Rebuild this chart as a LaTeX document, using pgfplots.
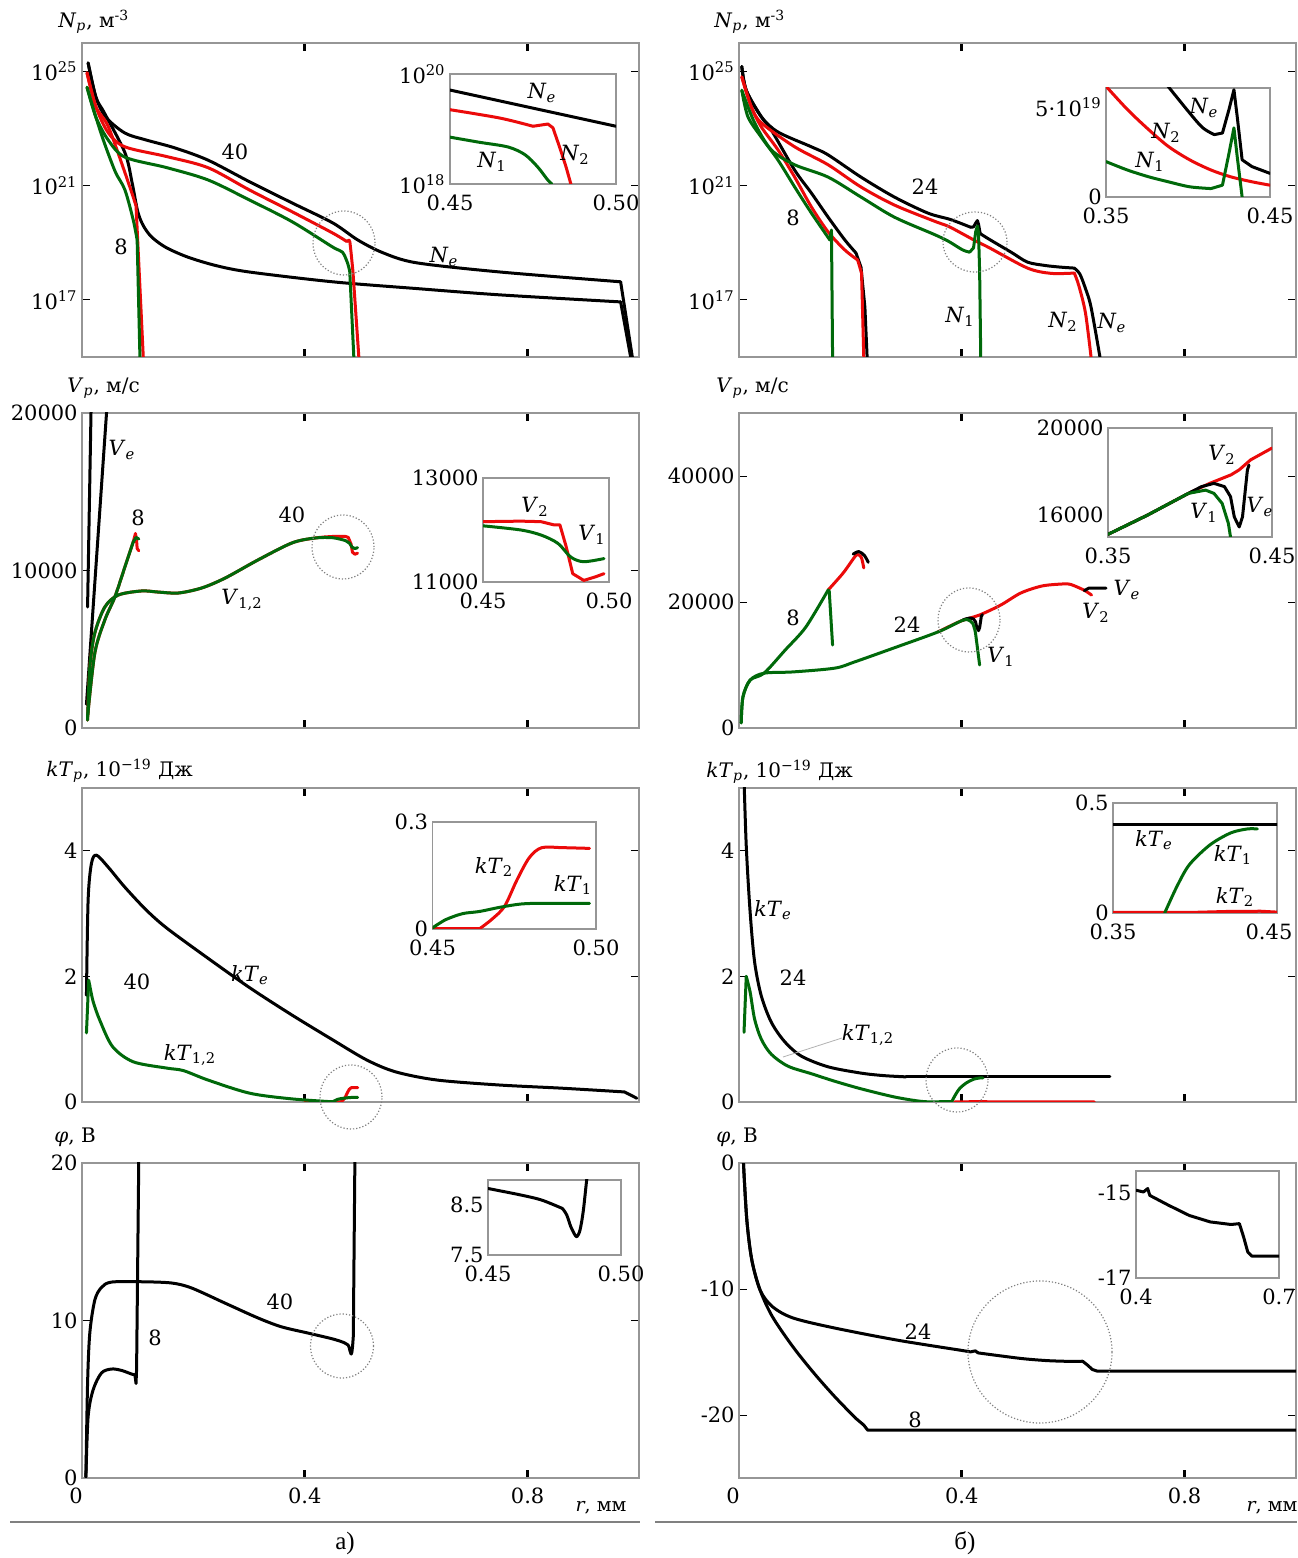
\documentclass[border=0pt]{standalone}
\usepackage{fontspec}
\setmainfont{DejaVu Serif}
\newfontfamily\capfont{Liberation Serif}
\usepackage{pgfplots}
\pgfplotsset{compat=1.18}
\definecolor{myred}{RGB}{235,10,10}
\definecolor{mygreen}{RGB}{0,105,10}
\definecolor{framec}{RGB}{150,150,150}
\newcommand{\lab}[2]{\textit{#1}\textsubscript{#2}}
\pgfplotsset{
  every axis plot/.append style={line width=1.5pt, line join=round, line cap=round},
  no markers,
  sm/.style={smooth, tension=0.5},
  base/.style={
    scale only axis, anchor=south west,
    axis line style={framec, line width=0.6pt},
    tick align=inside, major tick length=4pt,
    xtick style={black, line width=1.6pt},
    ytick style={black, line width=0.4pt},
    axis background/.style={fill=white},
    scaled ticks=false, yminorticks=false, xminorticks=false,
    yticklabel style={inner sep=2pt},
    xticklabel style={inner sep=2pt},
  },
  main/.style={base, width=278.5pt, xmin=0, xmax=1, xtick={0.4,0.8}, xticklabels={,,}},
  inset/.style={base, major tick length=0pt, xtick style={line width=0.4pt},
    xticklabel style={yshift=-3.5pt}},
  bottomrow/.style={xticklabels={0.4,0.8}, xticklabel style={yshift=-3pt},
    extra x ticks={0}, extra x tick labels={0},
    extra x tick style={major tick length=0pt, xticklabel style={xshift=-3pt}}},
}
\begin{document}
\fontsize{10.5}{12.6}\selectfont
\begin{tikzpicture}
\useasboundingbox (0,0) rectangle (648.5pt,779pt);

% ===================== Row 1 left: N =====================
\begin{axis}[main, at={(41pt,600.5pt)}, height=157pt, ymode=log, ymin=1e15, ymax=1e26,
  ytick={1e17,1e21,1e25}, yticklabels={10\textsuperscript{17},10\textsuperscript{21},10\textsuperscript{25}}]
\addplot[black, sm] coordinates {(0.011,2e25)(0.025,1.26e24)(0.043,2.5e23)(0.077,7e22)(0.115,4e22)(0.167,2.1e22)(0.226,7.9e21)(0.30,1.4e21)(0.377,2.5e20)(0.45,5e19)(0.495,1.26e19)(0.54,4.5e18)(0.60,2e18)(0.75,9.5e17)(0.967,4.3e17)};
\addplot[black] coordinates {(0.967,4.3e17)(0.988,1e15)};
\addplot[black, sm] coordinates {(0.011,2e25)(0.025,1.26e24)(0.04,3.6e23)(0.077,1.45e22)(0.09,1.26e21)(0.1,1.26e20)(0.11,4e19)(0.125,1.6e19)(0.15,7e18)(0.189,3.2e18)(0.24,1.6e18)(0.30,9.5e17)(0.45,4.3e17)(0.60,2.5e17)(0.75,1.5e17)(0.967,8.5e16)};
\addplot[black] coordinates {(0.967,8.5e16)(0.985,1e15)};
\addplot[myred, sm] coordinates {(0.009,9e24)(0.025,5.8e23)(0.047,7.2e22)(0.077,2.3e22)(0.152,1.05e22)(0.226,4.3e21)(0.30,7.2e20)(0.377,1.23e20)(0.45,2.2e19)(0.475,1.12e19)};
\addplot[myred] coordinates {(0.475,1.12e19)(0.4795,1.23e19)(0.481,1.05e19)(0.483,4.7e18)(0.4864,1e18)(0.497,1e15)};
\addplot[myred, sm] coordinates {(0.009,9e24)(0.025,5.8e23)(0.047,1.2e23)(0.077,2.9e21)(0.097,2e20)};
\addplot[myred] coordinates {(0.097,2e20)(0.11,1e15)};
\addplot[mygreen, sm] coordinates {(0.009,2.8e24)(0.025,2.5e23)(0.047,4e22)(0.077,1e22)(0.152,4.3e21)(0.226,1.6e21)(0.30,3.2e20)(0.377,5.5e19)(0.45,7.1e18)(0.4675,4.7e18)(0.4764,2.04e18)(0.4807,1e18)};
\addplot[mygreen] coordinates {(0.4807,1e18)(0.488,1e15)};
\addplot[mygreen, sm] coordinates {(0.009,2.8e24)(0.025,2.5e23)(0.04,3.2e22)(0.06,3e21)(0.077,7.2e20)(0.092,6.3e19)(0.099,1.26e19)};
\addplot[mygreen] coordinates {(0.099,1.26e19)(0.104,1e15)};
\end{axis}
\begin{axis}[inset, at={(225pt,687pt)}, width=83pt, height=55pt, xmin=0.45, xmax=0.5,
  ymode=log, ymin=1e18, ymax=1e20, xtick={0.45,0.5}, xticklabels={0.45,0.50},
  ytick={1e18,1e20}, yticklabels={10\textsuperscript{18},10\textsuperscript{20}}]
\addplot[black] coordinates {(0.45,5.1e19)(0.5,1.12e19)};
\addplot[myred, sm] coordinates {(0.45,2.24e19)(0.465,1.58e19)(0.475,1.12e19)};
\addplot[myred] coordinates {(0.475,1.12e19)(0.4795,1.23e19)(0.481,1.05e19)(0.483,4.7e18)(0.485,2e18)(0.4864,1e18)(0.487,8e17)};
\addplot[mygreen, sm] coordinates {(0.45,7.1e18)(0.4587,5.75e18)(0.4675,4.7e18)(0.4726,3.4e18)(0.4764,2.04e18)(0.4795,1.17e18)(0.4807,1e18)};
\end{axis}

% ===================== Row 1 right: N =====================
\begin{axis}[main, at={(369.5pt,600.5pt)}, height=157pt, ymode=log, ymin=1e15, ymax=1e26,
  ytick={1e17,1e21,1e25}, yticklabels={10\textsuperscript{17},10\textsuperscript{21},10\textsuperscript{25}}]
\addplot[black, sm] coordinates {(0.005,1.5e25)(0.013,2.2e24)(0.04,2.6e23)(0.07,7.6e22)(0.13,2.3e22)(0.16,1.2e22)(0.219,2e21)(0.279,4e20)(0.339,1.1e20)(0.38,6.5e19)(0.416,3.5e19)};
\addplot[black] coordinates {(0.416,3.5e19)(0.421,3.6e19)(0.425,4.9e19)(0.428,6e19)(0.43,4.5e19)(0.433,2.1e19)};
\addplot[black, sm] coordinates {(0.433,2.1e19)(0.45,1.3e19)(0.49,4.5e18)(0.518,2.1e18)(0.55,1.6e18)(0.578,1.4e18)(0.602,1.3e18)};
\addplot[black, sm] coordinates {(0.602,1.3e18)(0.612,8e17)(0.622,2.5e17)(0.632,5.6e16)(0.648,1e15)};
\addplot[black, sm] coordinates {(0.005,1.5e25)(0.013,2.2e24)(0.04,2.6e23)(0.058,8.9e22)(0.1,3.5e21)(0.13,5.5e20)(0.16,7.9e19)(0.19,1.26e19)(0.21,4.4e18)};
\addplot[black] coordinates {(0.21,4.4e18)(0.219,1.4e18)(0.226,5.6e16)(0.23,1e15)};
\addplot[myred, sm] coordinates {(0.005,6.5e24)(0.022,5.8e23)(0.04,1.6e23)(0.1,2.3e22)(0.16,5.4e21)(0.219,9e20)(0.279,2.1e20)(0.35,5.8e19)(0.376,3.77e19)(0.401,2.08e19)(0.426,1.13e19)(0.45,6.6e18)(0.518,1.3e18)(0.56,8.5e17)(0.602,8.7e17)};
\addplot[myred, sm] coordinates {(0.602,8.7e17)(0.61,3.2e17)(0.622,3.5e16)(0.632,1e15)};
\addplot[myred, sm] coordinates {(0.005,6.5e24)(0.022,5.8e23)(0.04,1.15e23)(0.07,1.8e22)(0.1,2e21)(0.13,1.8e20)(0.16,2.4e19)(0.19,5.6e18)(0.213,2.5e18)};
\addplot[myred] coordinates {(0.213,2.5e18)(0.22,8.7e17)(0.224,1e15)};
\addplot[mygreen, sm] coordinates {(0.005,2.2e24)(0.028,1.6e23)(0.058,1.8e22)(0.1,5.4e21)(0.16,2e21)(0.219,4e20)(0.279,7.9e19)(0.35,1.98e19)(0.376,1.13e19)(0.401,5.7e18)(0.414,4.7e18)};
\addplot[mygreen] coordinates {(0.414,4.7e18)(0.421,6.6e18)(0.425,2.45e19)(0.428,3.87e19)(0.43,2.26e19)(0.432,1e18)(0.434,1e15)};
\addplot[mygreen, sm] coordinates {(0.005,2.2e24)(0.016,2.6e23)(0.04,5e22)(0.07,7.9e21)(0.1,9e20)(0.13,1.1e20)(0.163,1.26e19)};
\addplot[mygreen] coordinates {(0.163,1.26e19)(0.166,2.8e19)(0.168,1e15)};
\end{axis}
\begin{axis}[inset, at={(553pt,680.5pt)}, width=82pt, height=54.5pt, xmin=0.35, xmax=0.45,
  ymin=0, ymax=6.1e19, xtick={0.35,0.45}, xticklabels={0.35,0.45},
  ytick={0,5e19}, yticklabels={0,5·10\textsuperscript{19}}]
\addplot[myred, sm] coordinates {(0.349,6.3e19)(0.363,4.9e19)(0.376,3.77e19)(0.388,2.83e19)(0.401,2.08e19)(0.414,1.51e19)(0.426,1.13e19)(0.439,0.85e19)(0.45,0.66e19)};
\addplot[black, sm] coordinates {(0.386,6.4e19)(0.401,4.7e19)(0.409,3.87e19)(0.416,3.49e19)};
\addplot[black] coordinates {(0.416,3.49e19)(0.421,3.58e19)(0.425,4.9e19)(0.428,6.0e19)(0.43,4.5e19)(0.433,2.08e19)(0.439,1.7e19)(0.45,1.32e19)};
\addplot[mygreen, sm] coordinates {(0.35,1.98e19)(0.363,1.51e19)(0.376,1.13e19)(0.388,0.85e19)(0.401,0.57e19)(0.414,0.47e19)};
\addplot[mygreen] coordinates {(0.414,0.47e19)(0.421,0.66e19)(0.425,2.45e19)(0.428,3.87e19)(0.43,2.26e19)(0.433,0)};
\end{axis}

% ===================== Row 2 left: V =====================
\begin{axis}[main, at={(41pt,415pt)}, height=157.5pt, ymin=0, ymax=20000,
  ytick={0,10000,20000}, yticklabels={0,10000,20000}]
\addplot[black] coordinates {(0.010,7680)(0.0164,20500)};
\addplot[black] coordinates {(0.008,1500)(0.045,20500)};
\addplot[myred, sm] coordinates {(0.01,500)(0.014,3870)(0.023,6030)(0.041,7680)(0.065,8440)(0.107,8700)(0.137,8630)(0.173,8570)(0.215,8890)(0.257,9520)(0.316,10670)(0.377,11750)(0.418,12060)(0.45,12160)(0.473,12160)};
\addplot[myred] coordinates {(0.473,12160)(0.478,12100)(0.483,11680)(0.4856,11160)(0.49,11030)(0.4947,11100)};
\addplot[myred, sm] coordinates {(0.01,700)(0.023,4760)(0.041,6860)(0.059,8320)(0.077,10220)(0.092,11810)};
\addplot[myred] coordinates {(0.092,11810)(0.096,12350)(0.098,11900)(0.099,11400)(0.102,11250)};
\addplot[mygreen, sm] coordinates {(0.01,500)(0.014,3870)(0.023,6030)(0.041,7680)(0.065,8440)(0.107,8700)(0.137,8630)(0.173,8570)(0.215,8890)(0.257,9520)(0.316,10670)(0.377,11750)(0.418,12060)(0.45,12080)(0.473,11900)};
\addplot[mygreen] coordinates {(0.473,11900)(0.48,11740)(0.485,11480)(0.49,11390)(0.4947,11450)};
\addplot[mygreen, sm] coordinates {(0.01,700)(0.023,4760)(0.041,6860)(0.059,8320)(0.077,10220)(0.092,11810)};
\addplot[mygreen] coordinates {(0.092,11810)(0.097,12100)(0.102,12000)};
\end{axis}
\begin{axis}[inset, at={(241.5pt,488pt)}, width=63pt, height=52pt, xmin=0.45, xmax=0.5,
  ymin=11000, ymax=13000, xtick={0.45,0.5}, xticklabels={0.45,0.50},
  ytick={11000,13000}, yticklabels={11000,13000}]
\addplot[myred] coordinates {(0.45,12160)(0.465,12170)(0.473,12160)(0.478,12100)(0.4805,12100)(0.483,11680)(0.4856,11160)(0.49,11030)(0.4947,11100)(0.498,11160)};
\addplot[mygreen, sm] coordinates {(0.45,12080)(0.465,12000)(0.4732,11900)(0.4798,11740)(0.4848,11480)(0.4899,11390)(0.498,11450)};
\end{axis}

% ===================== Row 2 right: V =====================
\begin{axis}[main, at={(369.5pt,415pt)}, height=157.5pt, ymin=0, ymax=50000,
  ytick={0,20000,40000}, yticklabels={0,20000,40000}]
\addplot[myred, sm] coordinates {(0.357,15240)(0.399,17000)(0.432,17940)(0.47,19520)(0.506,21430)(0.544,22540)(0.581,22860)(0.595,22800)(0.619,21900)(0.633,21100)};
\addplot[myred, sm] coordinates {(0.16,21900)(0.187,24600)(0.209,27300)(0.215,27460)(0.22,27000)(0.224,25400)};
\addplot[black] coordinates {(0.402,17140)(0.407,17310)(0.4146,17460)(0.421,17310)(0.4247,16850)(0.427,15920)(0.43,15460)(0.432,15920)(0.435,17700)(0.437,18000)};
\addplot[black] coordinates {(0.62,21800)(0.628,22200)(0.659,22200)};
\addplot[black, sm] coordinates {(0.205,27600)(0.215,28000)(0.225,27400)(0.232,26300)};
\addplot[mygreen, sm] coordinates {(0.004,800)(0.007,4900)(0.02,7600)(0.045,8700)(0.097,8900)(0.172,9500)(0.208,10500)(0.283,12860)(0.357,15240)(0.399,17000)(0.41,17200)};
\addplot[mygreen] coordinates {(0.41,17200)(0.415,17000)(0.42,16540)(0.4234,15620)(0.4247,15000)(0.432,10000)};
\addplot[mygreen, sm] coordinates {(0.004,800)(0.007,4900)(0.02,7600)(0.045,8700)(0.083,12380)(0.12,16030)(0.16,21900)};
\addplot[mygreen] coordinates {(0.16,21900)(0.162,21700)(0.168,13170)};
\end{axis}
\begin{axis}[inset, at={(554pt,510.5pt)}, width=82pt, height=54.5pt, xmin=0.35, xmax=0.45,
  ymin=15000, ymax=20000, xtick={0.35,0.45}, xticklabels={0.35,0.45},
  ytick={16000,20000}, yticklabels={16000,20000}]
\addplot[myred] coordinates {(0.35,15120)(0.374,16000)(0.399,17000)(0.412,17460)(0.425,17850)(0.43,18080)(0.437,18540)(0.45,19080)};
\addplot[black] coordinates {(0.35,15120)(0.374,16000)(0.399,17000)(0.407,17310)(0.4146,17460)(0.421,17310)(0.4247,16850)(0.427,15920)(0.43,15460)(0.432,15920)(0.435,18080)(0.436,18300)};
\addplot[mygreen] coordinates {(0.35,15120)(0.374,16000)(0.399,17000)(0.4095,17150)(0.4146,17000)(0.4196,16540)(0.4234,15620)(0.4247,15000)(0.425,14800)};
\end{axis}

% ===================== Row 3 left: kT =====================
\begin{axis}[main, at={(41pt,228pt)}, height=157pt, ymin=0, ymax=5,
  ytick={0,2,4}, yticklabels={0,2,4}]
\addplot[black, sm] coordinates {(0.008,1.7)(0.011,3.22)(0.017,3.8)(0.026,3.93)(0.047,3.74)(0.077,3.42)(0.115,3.06)(0.152,2.77)(0.226,2.29)(0.301,1.82)(0.376,1.39)(0.45,0.99)(0.511,0.67)(0.563,0.48)(0.637,0.35)(0.75,0.27)(0.861,0.22)(0.974,0.16)};
\addplot[black] coordinates {(0.974,0.16)(0.996,0.06)};
\addplot[myred] coordinates {(0.40,0)(0.4643,0)(0.468,0.026)(0.472,0.063)(0.4758,0.137)(0.4796,0.2)(0.4834,0.228)(0.495,0.228)};
\addplot[mygreen] coordinates {(0.008,1.1)(0.012,1.94)(0.014,1.85)};
\addplot[mygreen, sm] coordinates {(0.014,1.85)(0.02,1.6)(0.032,1.3)(0.055,0.88)(0.092,0.64)(0.152,0.54)(0.182,0.5)(0.226,0.35)(0.301,0.14)(0.376,0.05)(0.45,0.003)};
\addplot[mygreen, sm] coordinates {(0.45,0.003)(0.4592,0.043)(0.4707,0.061)(0.4834,0.072)(0.495,0.072)};
\end{axis}
\begin{axis}[inset, at={(216.25pt,314.5pt)}, width=81.75pt, height=53.5pt, xmin=0.45, xmax=0.5,
  ymin=0, ymax=0.3, xtick={0.45,0.5}, xticklabels={0.45,0.50},
  ytick={0,0.3}, yticklabels={0,0.3}]
\addplot[myred] coordinates {(0.45,0)(0.4643,0)};
\addplot[myred, sm] coordinates {(0.4643,0)(0.468,0.026)(0.472,0.063)(0.4758,0.137)(0.4796,0.2)(0.4834,0.228)(0.4898,0.228)(0.498,0.226)};
\addplot[mygreen, sm] coordinates {(0.45,0.003)(0.454,0.026)(0.4592,0.043)(0.4643,0.049)(0.4707,0.061)(0.477,0.07)(0.4834,0.072)(0.498,0.072)};
\end{axis}

% ===================== Row 3 right: kT =====================
\begin{axis}[main, at={(369.5pt,228pt)}, height=157pt, ymin=0, ymax=5,
  ytick={0,2,4}, yticklabels={0,2,4}]
\addplot[black, sm] coordinates {(0.0085,5.3)(0.013,4.08)(0.02,3.02)(0.028,2.23)(0.04,1.69)(0.058,1.27)(0.082,0.96)(0.112,0.73)(0.16,0.56)(0.219,0.46)(0.26,0.42)(0.30,0.4)};
\addplot[black] coordinates {(0.30,0.4)(0.666,0.4)};
\addplot[myred] coordinates {(0.387,0.0)(0.42,0.005)(0.44,0.006)(0.45,0.002)(0.638,0.0)};
\addplot[mygreen] coordinates {(0.009,1.11)(0.013,2.0)};
\addplot[mygreen, sm] coordinates {(0.013,2.0)(0.02,1.75)(0.028,1.32)(0.04,1.0)(0.058,0.76)(0.088,0.57)(0.13,0.45)(0.172,0.33)(0.219,0.21)(0.279,0.08)(0.327,0.01)(0.36,0)};
\addplot[mygreen] coordinates {(0.36,0)(0.3815,0)};
\addplot[mygreen, sm] coordinates {(0.3815,0)(0.389,0.121)(0.3966,0.22)(0.4092,0.31)(0.4218,0.364)(0.4319,0.382)(0.438,0.382)};
\end{axis}
\begin{axis}[inset, at={(556.5pt,322.5pt)}, width=82pt, height=55pt, xmin=0.35, xmax=0.45,
  ymin=0, ymax=0.5, xtick={0.35}, xticklabels={0.35},
  extra x ticks={0.45}, extra x tick labels={0.45},
  extra x tick style={xticklabel style={xshift=-4pt}},
  ytick={0,0.5}, yticklabels={0,0.5}]
\addplot[black] coordinates {(0.35,0.4)(0.45,0.4)};
\addplot[myred] coordinates {(0.35,0.003)(0.40,0.003)(0.42,0.007)(0.44,0.008)(0.45,0.004)};
\addplot[mygreen, sm] coordinates {(0.3815,0)(0.389,0.121)(0.3966,0.22)(0.4092,0.31)(0.4218,0.364)(0.4319,0.382)(0.438,0.382)};
\end{axis}

% ===================== Row 4 left: phi =====================
\begin{axis}[main, bottomrow, at={(41pt,40pt)}, height=157.5pt, ymin=0, ymax=20,
  ytick={0,10,20}, yticklabels={0,10,20}]
\addplot[black, sm] coordinates {(0.007,0.06)(0.01,6)(0.014,9.2)(0.023,11.3)(0.035,12.1)(0.053,12.44)(0.107,12.46)(0.161,12.38)(0.197,12.06)(0.257,11.1)(0.316,10.16)(0.358,9.6)(0.406,9.2)(0.45,8.83)(0.4701,8.6)(0.478,8.43)};
\addplot[black] coordinates {(0.478,8.43)(0.4796,8.3)(0.4811,8.07)(0.4827,7.9)(0.4835,7.87)(0.4846,8.0)(0.4858,8.37)(0.4871,9.0)(0.49,20.5)};
\addplot[black, sm] coordinates {(0.007,0.06)(0.011,3.9)(0.02,5.6)(0.035,6.67)(0.053,6.92)(0.071,6.83)(0.089,6.6)(0.095,6.55)};
\addplot[black] coordinates {(0.095,6.55)(0.097,6.0)(0.098,6.9)(0.102,20.5)};
\end{axis}
\begin{axis}[inset, at={(244pt,151.5pt)}, width=66.5pt, height=37.5pt, xmin=0.45, xmax=0.5,
  ymin=7.5, ymax=9, xtick={0.45,0.5}, xticklabels={0.45,0.50},
  ytick={7.5,8.5}, yticklabels={7.5,8.5}]
\addplot[black, sm] coordinates {(0.45,8.83)(0.4623,8.7)(0.4701,8.6)(0.478,8.43)};
\addplot[black, sm] coordinates {(0.478,8.43)(0.4796,8.3)(0.4811,8.07)(0.4827,7.9)(0.4835,7.87)(0.4846,8.0)(0.4858,8.37)(0.4871,9.0)(0.4875,9.1)};
\end{axis}

% ===================== Row 4 right: phi =====================
\begin{axis}[main, bottomrow, at={(369.5pt,40pt)}, height=157.5pt, ymin=-25, ymax=0,
  ytick={-20,-10,0}, yticklabels={-20,-10,0}]
\addplot[black, sm] coordinates {(0.008,0)(0.014,-4.5)(0.023,-7.7)(0.038,-10.1)(0.06,-11.4)(0.097,-12.3)(0.172,-13.1)(0.283,-14.05)(0.395,-14.84)};
\addplot[black] coordinates {(0.395,-14.84)(0.4157,-14.99)(0.4245,-14.91)(0.4289,-15.07)};
\addplot[black, sm] coordinates {(0.4289,-15.07)(0.4682,-15.3)(0.512,-15.54)(0.5557,-15.69)(0.5994,-15.75)(0.6169,-15.73)};
\addplot[black] coordinates {(0.6169,-15.73)(0.6257,-16.04)(0.6344,-16.39)(0.6432,-16.52)(1.0,-16.52)};
\addplot[black, sm] coordinates {(0.008,0)(0.014,-4.5)(0.023,-7.7)(0.038,-10.1)(0.06,-12.2)(0.097,-14.6)(0.135,-16.7)(0.172,-18.55)(0.209,-20.24)};
\addplot[black] coordinates {(0.209,-20.24)(0.224,-20.8)(0.231,-21.2)(1.0,-21.2)};
\end{axis}
\begin{axis}[inset, at={(568pt,140pt)}, width=71.5pt, height=53.5pt, xmin=0.4, xmax=0.7,
  ymin=-17, ymax=-14.5, xtick={0.4,0.7}, xticklabels={0.4,0.7},
  ytick={-17,-15}, yticklabels={-17,-15}]
\addplot[black] coordinates {(0.4,-14.95)(0.4157,-14.99)(0.4245,-14.91)(0.4289,-15.07)(0.4682,-15.3)(0.512,-15.54)(0.5557,-15.69)(0.5994,-15.75)(0.6169,-15.73)(0.6257,-16.04)(0.6344,-16.39)(0.6432,-16.49)(0.7,-16.49)};
\end{axis}

% ===================== annotations (pixel coordinates) =====================
\begin{scope}[shift={(0pt,779pt)}, x=0.5pt, y=-0.5pt]
  \begin{scope}[gray, densely dotted, line width=0.6pt]
    \draw (344,243) ellipse [x radius=15.5pt, y radius=16pt];
    \draw (975,242) ellipse [x radius=16pt, y radius=15pt];
    \draw (343,547) ellipse [x radius=15.5pt, y radius=16pt];
    \draw (969,620) ellipse [x radius=15.5pt, y radius=16pt];
    \draw (351,1097) ellipse [x radius=15.5pt, y radius=16pt];
    \draw (957,1080) ellipse [x radius=15.5pt, y radius=16pt];
    \draw (342,1346) ellipse [x radius=15.75pt, y radius=16pt];
    \draw (1040,1352) ellipse [x radius=36pt, y radius=35.5pt];
  \end{scope}
  \begin{scope}[every node/.style={anchor=base west, inner sep=0pt, font=\fontsize{10}{12}\selectfont}]
    \node at (58,28) {\lab{N}{\textit{p}}, м\textsuperscript{-3}};
    \node at (714,28) {\lab{N}{\textit{p}}, м\textsuperscript{-3}};
    \node at (67,393) {\lab{V}{\textit{p}}, м/с};
    \node at (716,393) {\lab{V}{\textit{p}}, м/с};
    \node at (46,777) {\lab{kT}{\textit{p}}, 10\textsuperscript{−19} Дж};
    \node at (706,778) {\lab{kT}{\textit{p}}, 10\textsuperscript{−19} Дж};
    \node at (54,1143) {\textit{φ}, В};
    \node at (716,1143) {\textit{φ}, В};
  \end{scope}
  \node[font=\fontsize{9.5}{11}\selectfont] at (601,1508) {\textit{r}, мм};
  \node[font=\fontsize{9.5}{11}\selectfont] at (1272,1508) {\textit{r}, мм};
  \draw[gray, line width=0.6pt] (10,1522) -- (640,1522);
  \draw[gray, line width=0.6pt] (655,1522) -- (1297,1522);
  \node[font=\capfont\fontsize{12.5}{14}\selectfont] at (345,1543) {а)};
  \node[font=\capfont\fontsize{12.5}{14}\selectfont] at (965,1543) {б)};
  % row 1 labels
  \node at (235,152) {40};
  \node at (121,247) {8};
  \node at (444,257) {\lab{N}{\textit{e}}};
  \node at (542,93) {\lab{N}{\textit{e}}};
  \node at (575,155) {\lab{N}{2}};
  \node at (492,162) {\lab{N}{1}};
  \node at (925,187) {24};
  \node at (793,218) {8};
  \node at (960,317) {\lab{N}{1}};
  \node at (1063,322) {\lab{N}{2}};
  \node at (1112,323) {\lab{N}{\textit{e}}};
  \node at (1204,108) {\lab{N}{\textit{e}}};
  \node at (1166,133) {\lab{N}{2}};
  \node at (1150,162) {\lab{N}{1}};
  % row 2 labels
  \node at (122,450) {\lab{V}{\textit{e}}};
  \node at (138,518) {8};
  \node at (292,515) {40};
  \node at (242,600) {\lab{V}{1,2}};
  \node at (535,507) {\lab{V}{2}};
  \node at (592,535) {\lab{V}{1}};
  \node at (793,618) {8};
  \node at (907,625) {24};
  \node at (1001,657) {\lab{V}{1}};
  \node at (1096,613) {\lab{V}{2}};
  \node at (1127,590) {\lab{V}{\textit{e}}};
  \node at (1222,455) {\lab{V}{2}};
  \node at (1204,513) {\lab{V}{1}};
  \node at (1260,507) {\lab{V}{\textit{e}}};
  % row 3 labels
  \node at (137,982) {40};
  \node at (250,975) {\lab{kT}{\textit{e}}};
  \node at (190,1055) {\lab{kT}{1,2}};
  \node at (494,867) {\lab{kT}{2}};
  \node at (573,885) {\lab{kT}{1}};
  \node at (773,910) {\lab{kT}{\textit{e}}};
  \node at (793,978) {24};
  \draw[gray!60, line width=0.4pt] (783,1057) -- (842,1038);
  \node at (868,1035) {\lab{kT}{1,2}};
  \node at (1154,840) {\lab{kT}{\textit{e}}};
  \node at (1233,855) {\lab{kT}{1}};
  \node at (1235,897) {\lab{kT}{2}};
  % row 4 labels
  \node at (155,1338) {8};
  \node at (280,1302) {40};
  \node at (918,1332) {24};
  \node at (915,1420) {8};
\end{scope}
\end{tikzpicture}
\end{document}
